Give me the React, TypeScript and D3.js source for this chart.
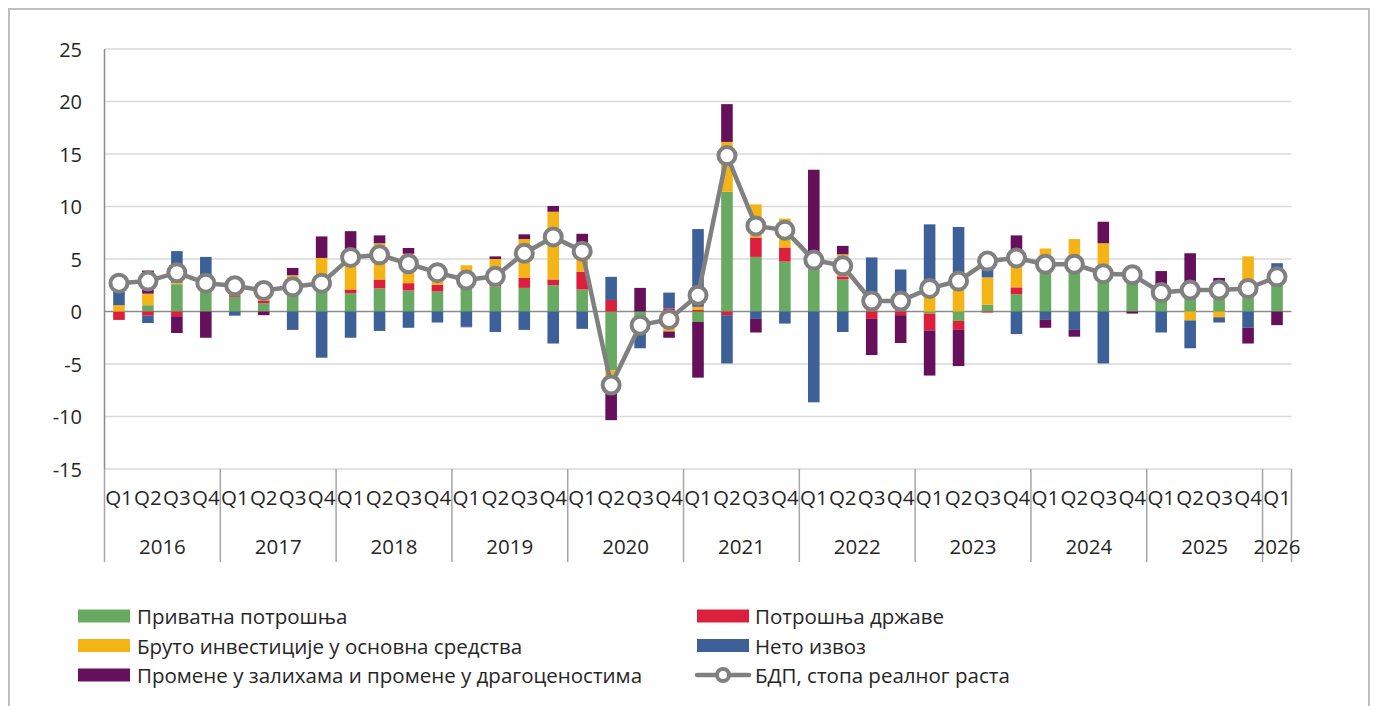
import React from "react";
import * as d3 from "d3";

// quarters 2016Q1 .. 2026Q1
const years = ["2016", "2017", "2018", "2019", "2020", "2021", "2022", "2023", "2024", "2025", "2026"];
const quarters = years.flatMap((y) => (y === "2026" ? ["Q1"] : ["Q1", "Q2", "Q3", "Q4"]).map((q) => `${y}${q}`));

const privateCons = [
  0, 0.6, 2.6, 1.9, 1.4, 0.8, 1.9, 2.0, 1.75, 2.2, 2.0, 1.9, 2.3, 2.4, 2.25, 2.5, 2.1, -5.6, -0.4, -0.8, -1.0,
  11.4, 5.2, 4.75, 4.6, 3.05, 1.0, 1.0, -0.2, -0.9, 0.65, 1.65, 4.4, 4.6, 3.2, 3.3, 1.5, 1.8, 2.1, 1.8, 3.0,
];
const govCons = [
  -0.8, -0.4, -0.45, 0, 0.15, 0.25, 0, 0, 0.35, 0.85, 0.7, 0.65, 0.3, 0.3, 0.95, 0.55, 1.7, 1.1, 0, 0.3, 0.15,
  -0.35, 1.85, 1.35, 0, 0.3, -0.7, -0.35, -1.6, -0.85, -0.1, 0.65, 0, 0, 0, 0, 0, 0, 0, 0, 0,
];
const investment = [
  0.6, 1.1, 0.15, 0, 0.5, 0.6, 1.55, 3.1, 3.3, 3.45, 2.8, 1.0, 1.8, 2.3, 3.7, 6.45, 2.2, -0.6, 0, -1.1, 0.3,
  4.75, 3.15, 2.75, 0, 2.1, 0.3, 0, 2.0, 2.8, 2.6, 2.9, 1.6, 2.3, 3.3, 0, 0.4, -0.85, -0.55, 3.45, 0,
];
const netExports = [
  1.3, -0.7, 3.0, 3.3, -0.4, 0, -1.75, -4.4, -2.5, -1.85, -1.55, -1.05, -1.45, -1.95, -1.75, -3.05, -1.65, 2.2,
  -3.1, 1.5, 7.4, -4.6, -0.7, -1.15, -8.65, -1.95, 3.85, 3.0, 6.3, 5.25, 1.0, -2.15, -0.8, -1.75, -4.95, 0, -2.0,
  -2.65, -0.5, -1.55, 1.6,
];
const inventories = [
  0, 2.2, -1.6, -2.5, 0, -0.35, 0.7, 2.05, 2.25, 0.75, 0.55, 0, -0.05, 0.25, 0.45, 0.55, 1.4, -4.15, 2.25, -0.6,
  -5.3, 3.6, -1.3, 0, 8.9, 0.8, -3.45, -2.65, -4.3, -3.45, 0, 2.05, -0.75, -0.65, 2.05, -0.2, 1.95, 3.75, 1.1,
  -1.5, -1.3,
];
const gdpGrowth = [
  2.7, 2.9, 3.7, 2.7, 2.45, 2.0, 2.35, 2.7, 5.15, 5.4, 4.55, 3.7, 3.0, 3.35, 5.55, 7.1, 5.75, -7.0, -1.3, -0.75,
  1.55, 14.85, 8.15, 7.75, 4.9, 4.35, 1.0, 1.0, 2.2, 2.9, 4.8, 5.1, 4.5, 4.5, 3.6, 3.5, 1.8, 2.05, 2.05, 2.2, 3.3,
];
const yTicks = [-15, -10, -5, 0, 5, 10, 15, 20, 25];

const seriesKeys = ["private", "gov", "inv", "net", "inv_ch"];
const seriesNames: Record<string, string> = {
  private: "Приватна потрошња",
  gov: "Потрошња државе",
  inv: "Бруто инвестиције у основна средства",
  net: "Нето извоз",
  inv_ch: "Промене у залихама и промене у драгоценостима",
};
const colors: Record<string, string> = {
  private: "#68aa62",
  gov: "#dd1f3e",
  inv: "#f5b415",
  net: "#3d6099",
  inv_ch: "#66105c",
};
const gdpName = "БДП, стопа реалног раста";

const rows = quarters.map((q, i) => ({
  q,
  private: privateCons[i],
  gov: govCons[i],
  inv: investment[i],
  net: netExports[i],
  inv_ch: inventories[i],
}));

const FONT = "'Open Sans', sans-serif";
const TEXT = "#262626";

export default function App() {
  const left = 104.5;
  const right = 1291.5;
  const top = 49;
  const bottom = 469;

  const x = d3.scaleBand().domain(quarters).range([left, right]).paddingInner(0.6).paddingOuter(0.3);
  const xb = d3.scaleBand().domain(quarters).range([left, right]);
  const y = d3.scaleLinear().domain([-15, 25]).range([bottom, top]);

  const layers = d3.stack<any>().keys(seriesKeys).offset(d3.stackOffsetDiverging)(rows);

  const cx = (i: number) => xb(quarters[i])! + xb.bandwidth() / 2;
  const line = d3
    .line<number>()
    .x((_, i) => cx(i))
    .y((d) => y(d));

  // year groups on the category axis
  const yearGroups = years.map((yr) => {
    const qs = quarters.filter((q) => q.startsWith(yr));
    const x0 = xb(qs[0])!;
    const x1 = xb(qs[qs.length - 1])! + xb.bandwidth();
    return { yr, x0, x1 };
  });

  const legendLeft = [
    { key: "private", y: 616 },
    { key: "inv", y: 645.5 },
    { key: "inv_ch", y: 675 },
  ];
  const legendRight = [
    { key: "gov", y: 616 },
    { key: "net", y: 645.5 },
  ];
  const legendFont = 20.5;

  return (
    <svg
      width={1375}
      height={706}
      style={{ position: "absolute", left: 0, top: 0, background: "#fff" }}
      fontFamily={FONT}
    >
      <rect x={9} y={9} width={1360} height={740} fill="#fff" stroke="#bfbfbf" strokeWidth={2} />

      {/* gridlines */}
      {yTicks.map((t) => (
        <line key={t} x1={left} x2={right} y1={y(t)} y2={y(t)} stroke={t === 0 ? "#8c8c8c" : "#d9d9d9"} strokeWidth={1.5} />
      ))}

      {/* y axis */}
      <line x1={left} x2={left} y1={top} y2={bottom} stroke="#8c8c8c" strokeWidth={1.5} />
      {yTicks.map((t) => (
        <text key={t} x={82} y={y(t)} textAnchor="end" dominantBaseline="central" fontSize={20} fill={TEXT}>
          {t}
        </text>
      ))}

      {/* bars */}
      {layers.map((layer) => (
        <g key={layer.key} fill={colors[layer.key]}>
          {layer.map((d, i) => (
            <rect
              key={i}
              x={x(quarters[i])}
              width={x.bandwidth()}
              y={y(Math.max(d[0], d[1]))}
              height={Math.abs(y(d[0]) - y(d[1]))}
            />
          ))}
        </g>
      ))}

      {/* GDP line */}
      <path d={line(gdpGrowth) || ""} fill="none" stroke="#808080" strokeWidth={4.5} strokeLinejoin="round" />
      {gdpGrowth.map((v, i) => (
        <circle key={i} cx={cx(i)} cy={y(v)} r={8.5} fill="#fff" stroke="#808080" strokeWidth={4} />
      ))}

      {/* category axis */}
      <line x1={left} x2={left} y1={bottom} y2={562} stroke="#a6a6a6" strokeWidth={1.5} />
      {yearGroups.map((g) => (
        <g key={g.yr}>
          <line x1={g.x1} x2={g.x1} y1={bottom} y2={562} stroke="#a6a6a6" strokeWidth={1.5} />
          <text x={(g.x0 + g.x1) / 2} y={546} textAnchor="middle" dominantBaseline="central" fontSize={20.5} fill={TEXT}>
            {g.yr}
          </text>
        </g>
      ))}
      {quarters.map((q) => (
        <text
          key={q}
          x={xb(q)! + xb.bandwidth() / 2}
          y={497}
          textAnchor="middle"
          dominantBaseline="central"
          fontSize={20.5}
          fill={TEXT}
        >
          {q.slice(4)}
        </text>
      ))}

      {/* legend */}
      {legendLeft.map((l) => (
        <g key={l.key}>
          <rect x={78} y={l.y - 6.5} width={52} height={13} fill={colors[l.key]} />
          <text x={137} y={l.y} dominantBaseline="central" fontSize={legendFont} fill={TEXT}>
            {seriesNames[l.key]}
          </text>
        </g>
      ))}
      {legendRight.map((l) => (
        <g key={l.key}>
          <rect x={697} y={l.y - 6.5} width={52} height={13} fill={colors[l.key]} />
          <text x={755} y={l.y} dominantBaseline="central" fontSize={legendFont} fill={TEXT}>
            {seriesNames[l.key]}
          </text>
        </g>
      ))}
      <g>
        <line x1={697} x2={749} y1={675} y2={675} stroke="#808080" strokeWidth={4.5} strokeLinecap="round" />
        <circle cx={723} cy={675} r={6} fill="#fff" stroke="#808080" strokeWidth={4} />
        <text x={755} y={675} dominantBaseline="central" fontSize={legendFont} fill={TEXT}>
          {gdpName}
        </text>
      </g>
    </svg>
  );
}
